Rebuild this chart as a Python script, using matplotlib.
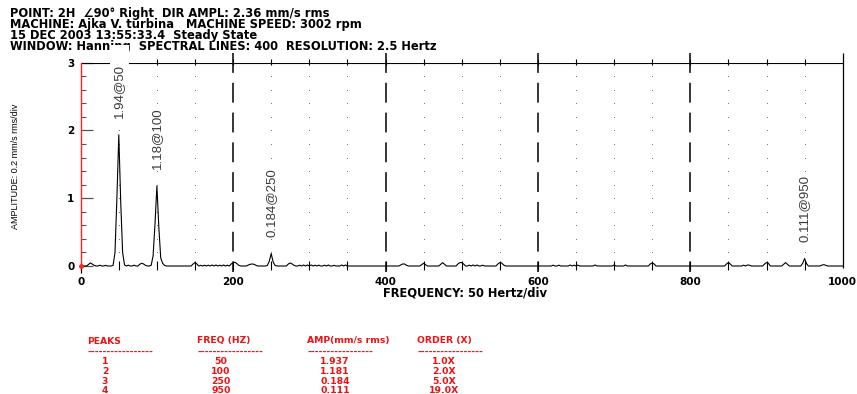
import numpy as np
import matplotlib
matplotlib.use("Agg")
import matplotlib.pyplot as plt
from matplotlib.patches import Rectangle
from matplotlib.transforms import IdentityTransform

# ---- peak table -------------------------------------------------------
peak_no = [1, 2, 3, 4]
peak_freq = [50, 100, 250, 950]          # Hz
peak_amp = [1.937, 1.181, 0.184, 0.111]  # mm/s rms
peak_order = [1.0, 2.0, 5.0, 19.0]       # X

# ---- spectrum: 400 lines, 2.5 Hz resolution ---------------------------
resolution = 2.5
n_lines = 400
# peak skirts and low level components (Hz: mm/s rms)
line_bins = {
    10: 0.02, 12.5: 0.045, 15: 0.03, 17.5: 0.01, 25: 0.012, 32.5: 0.01,
    42.5: 0.01, 45: 0.2, 47.5: 1.0, 52.5: 0.95, 55: 0.2, 57.5: 0.015,
    62.5: 0.012, 70: 0.012, 77.5: 0.025, 80: 0.04, 82.5: 0.03, 85: 0.01,
    92.5: 0.01, 95: 0.15, 97.5: 0.62, 102.5: 0.58, 105: 0.12, 107.5: 0.04, 110: 0.01,
    147.5: 0.03, 150: 0.05, 152.5: 0.03, 157.5: 0.01,
    162.5: 0.012, 167.5: 0.012, 172.5: 0.015, 177.5: 0.015, 182.5: 0.012,
    187.5: 0.015, 192.5: 0.012,
    197.5: 0.03, 200: 0.05, 202.5: 0.055, 205: 0.035, 207.5: 0.01,
    220: 0.015, 222.5: 0.025, 225: 0.03, 227.5: 0.025, 230: 0.01,
    245: 0.01, 247.5: 0.07, 252.5: 0.06, 255: 0.01,
    272.5: 0.03, 275: 0.045, 277.5: 0.03, 280: 0.01,
    287.5: 0.012, 292.5: 0.015, 297.5: 0.015, 302.5: 0.015, 307.5: 0.012,
    312.5: 0.012, 320: 0.012, 325: 0.015, 332.5: 0.01, 342.5: 0.015, 347.5: 0.015,
    420: 0.015, 422.5: 0.03, 425: 0.03, 427.5: 0.012,
    447.5: 0.02, 450: 0.04, 452.5: 0.02,
    472.5: 0.025, 475: 0.05, 477.5: 0.025,
    495: 0.03, 497.5: 0.05, 500: 0.05, 502.5: 0.03,
    510: 0.012, 515: 0.015, 520: 0.015, 527.5: 0.012,
    547.5: 0.03, 550: 0.05, 552.5: 0.045, 555: 0.015,
    620: 0.012, 627.5: 0.012, 642.5: 0.015, 647.5: 0.012, 652.5: 0.012,
    675: 0.015, 700: 0.015, 715: 0.015,
    747.5: 0.03, 750: 0.045, 752.5: 0.03,
    847.5: 0.03, 850: 0.05, 852.5: 0.03,
    870: 0.012, 875: 0.015, 877.5: 0.012,
    897.5: 0.03, 900: 0.05, 902.5: 0.04,
    922.5: 0.025, 925: 0.05, 927.5: 0.025,
    947.5: 0.04, 952.5: 0.035,
    972.5: 0.012, 975: 0.02, 977.5: 0.012,
}

freqs = np.arange(n_lines + 1) * resolution
amps = np.zeros_like(freqs)
for f, a in line_bins.items():
    amps[int(round(f / resolution))] = a
for f, a in zip(peak_freq, peak_amp):
    amps[int(round(f / resolution))] = a

# ---- header / axis texts ----------------------------------------------
header_lines = [
    "POINT: 2H  \u222090\u00b0 Right  DIR AMPL: 2.36 mm/s rms",
    "MACHINE: Ajka V. turbina   MACHINE SPEED: 3002 rpm",
    "15 DEC 2003 13:55:33.4  Steady State",
    "WINDOW: Hanning  SPECTRAL LINES: 400  RESOLUTION: 2.5 Hertz",
]
y_label = "AMPLITUDE: 0.2 mm/s rms/div"
x_label = "FREQUENCY: 50 Hertz/div"
x_ticks = [0, 200, 400, 600, 800, 1000]
y_ticks = [0, 1, 2, 3]
table_headers = ["PEAKS", "FREQ (HZ)", "AMP(mm/s rms)", "ORDER (X)"]

W, H = 857, 394
fig = plt.figure(figsize=(W / 100, H / 100), dpi=100)
fig.patch.set_facecolor("white")


def fx(px):
    return px / W


def fy(py):
    return 1 - py / H


BOLD = ["DejaVu Sans"]
NARROW = ["Liberation Sans Narrow", "Liberation Sans", "DejaVu Sans"]
RED = "#ee1111"

x0p, x1p, y0p, y1p = 80.7, 842.7, 266.0, 62.7
ax = fig.add_axes([fx(x0p), fy(y0p), fx(x1p) - fx(x0p), fy(y1p) - fy(y0p)])
ax.set_zorder(2)
ax.patch.set_visible(False)
ax.set_xlim(0, 1000)
ax.set_ylim(0, 3)

for s in ("top", "right", "bottom"):
    ax.spines[s].set_visible(False)
ax.spines["left"].set_color("#ff2222")
ax.spines["left"].set_linewidth(1.0)
ax.spines["left"].set_bounds(0, 3)

# ticks and tick labels
ax.set_yticks(y_ticks)
ax.set_yticklabels([str(v) for v in y_ticks], fontsize=7.5, weight="bold",
                   family=BOLD)
ax.set_yticks(np.arange(0, 3.01, 0.2), minor=True)
ax.tick_params(axis="y", which="major", direction="in", length=8.6, width=0.9,
               color="#555555", pad=4.5)
ax.tick_params(axis="y", which="minor", direction="in", length=3.6, width=0.8,
               color="#555555")
ax.set_xticks(x_ticks)
ax.set_xticklabels([str(v) for v in x_ticks], fontsize=7.5, weight="bold",
                   family=BOLD)
ax.tick_params(axis="x", which="major", length=0, pad=8)

# dotted grid every 50 Hz / 0.2 units
grid_x = [v for v in np.arange(50, 1000, 50) if v % 200 != 0]
grid_y = np.arange(0.2, 2.81, 0.2)
gx, gy = np.meshgrid(grid_x, grid_y)
ax.plot(gx.ravel(), gy.ravel(), linestyle="none", marker="s", ms=0.7,
        mec="none", mfc="#707070", zorder=1)

# frame lines
ax.axhline(3, color="black", lw=0.8, zorder=2)
ax.axhline(0, color="black", lw=0.7, zorder=2)
ax.vlines(1000, -0.03, 3.15, color="black", lw=0.9, clip_on=False, zorder=2)
ax.vlines(0, -0.1, 0, color="black", lw=0.9, clip_on=False, zorder=2)

# 50 Hz ticks on bottom and top lines
tick_x = np.arange(50, 1000, 50)
ax.vlines(tick_x, -0.06, 0.08, color="black", lw=0.8, clip_on=False, zorder=2)
ax.vlines(tick_x, 2.97, 3.06, color="black", lw=0.8, clip_on=False, zorder=2)

# long-dash lines every 200 Hz
for xv in x_ticks[1:-1]:
    ln, = ax.plot([xv, xv], [3.15, -0.09], color="black", lw=1.1,
                  clip_on=False, zorder=2)
    ln.set_dashes([13, 6.5])

# spectrum
ax.plot(freqs, amps, color="black", lw=0.8, zorder=3, clip_on=False)
ax.plot([0], [0], "o", color="#ff2222", ms=2.5, clip_on=False, zorder=4)

# peak labels
labels = []
for f, a in zip(peak_freq, peak_amp):
    t = ax.annotate(f"{a:.3g}@{f}", xy=(f, a), xytext=(0, 12),
                    textcoords="offset points", rotation=90, ha="center",
                    va="bottom", fontsize=9.5, family=NARROW, color="#3a3a3a",
                    bbox=dict(boxstyle="square,pad=0.1", fc="white", ec="none"),
                    zorder=6, annotation_clip=False)
    labels.append(t)

# header
for i, line in enumerate(header_lines):
    fig.text(fx(10), fy(13 + 11.3 * i), line, fontsize=8.3, weight="bold",
             va="center", ha="left", family=BOLD, zorder=1)

fig.text(fx(16), fy(166), y_label, rotation=90, ha="center", va="center",
         fontsize=6.5, family=NARROW, zorder=1)
fig.text(fx(465), fy(293), x_label, ha="center", va="center", fontsize=8.3,
         weight="bold", family=BOLD, zorder=1)

# peak table
col_left = [87, 197, 307, 417]
col_center = [105, 221, 335, 444]
for xl, head in zip(col_left, table_headers):
    fig.text(fx(xl), fy(341), head, fontsize=6.7, weight="bold", color=RED,
             family=BOLD, va="center", ha="left")
    fig.text(fx(xl), fy(352), "-" * 17, fontsize=6.7, weight="bold", color=RED,
             family=BOLD, va="center", ha="left")
row_y = [361, 371, 381, 390.5]
for r, (n, f, a, o) in enumerate(zip(peak_no, peak_freq, peak_amp, peak_order)):
    cells = [str(n), str(f), f"{a:.3f}", f"{o:.1f}X"]
    for xc, c in zip(col_center, cells):
        fig.text(fx(xc), fy(row_y[r]), c, fontsize=6.7, weight="bold",
                 color=RED, family=BOLD, va="center", ha="center")

# background block behind the largest peak label reaches up to the header
fig.canvas.draw()
big = labels[int(np.argmax(peak_amp))]
bb = big.get_window_extent()
top = H - 44.5
ax.add_patch(Rectangle((bb.x0 - 3, bb.y0 - 1), bb.width + 7, top - bb.y0 + 1,
                       transform=IdentityTransform(), fc="white", ec="none",
                       clip_on=False, zorder=5))

fig.savefig("out.png", dpi=100, facecolor="white")
